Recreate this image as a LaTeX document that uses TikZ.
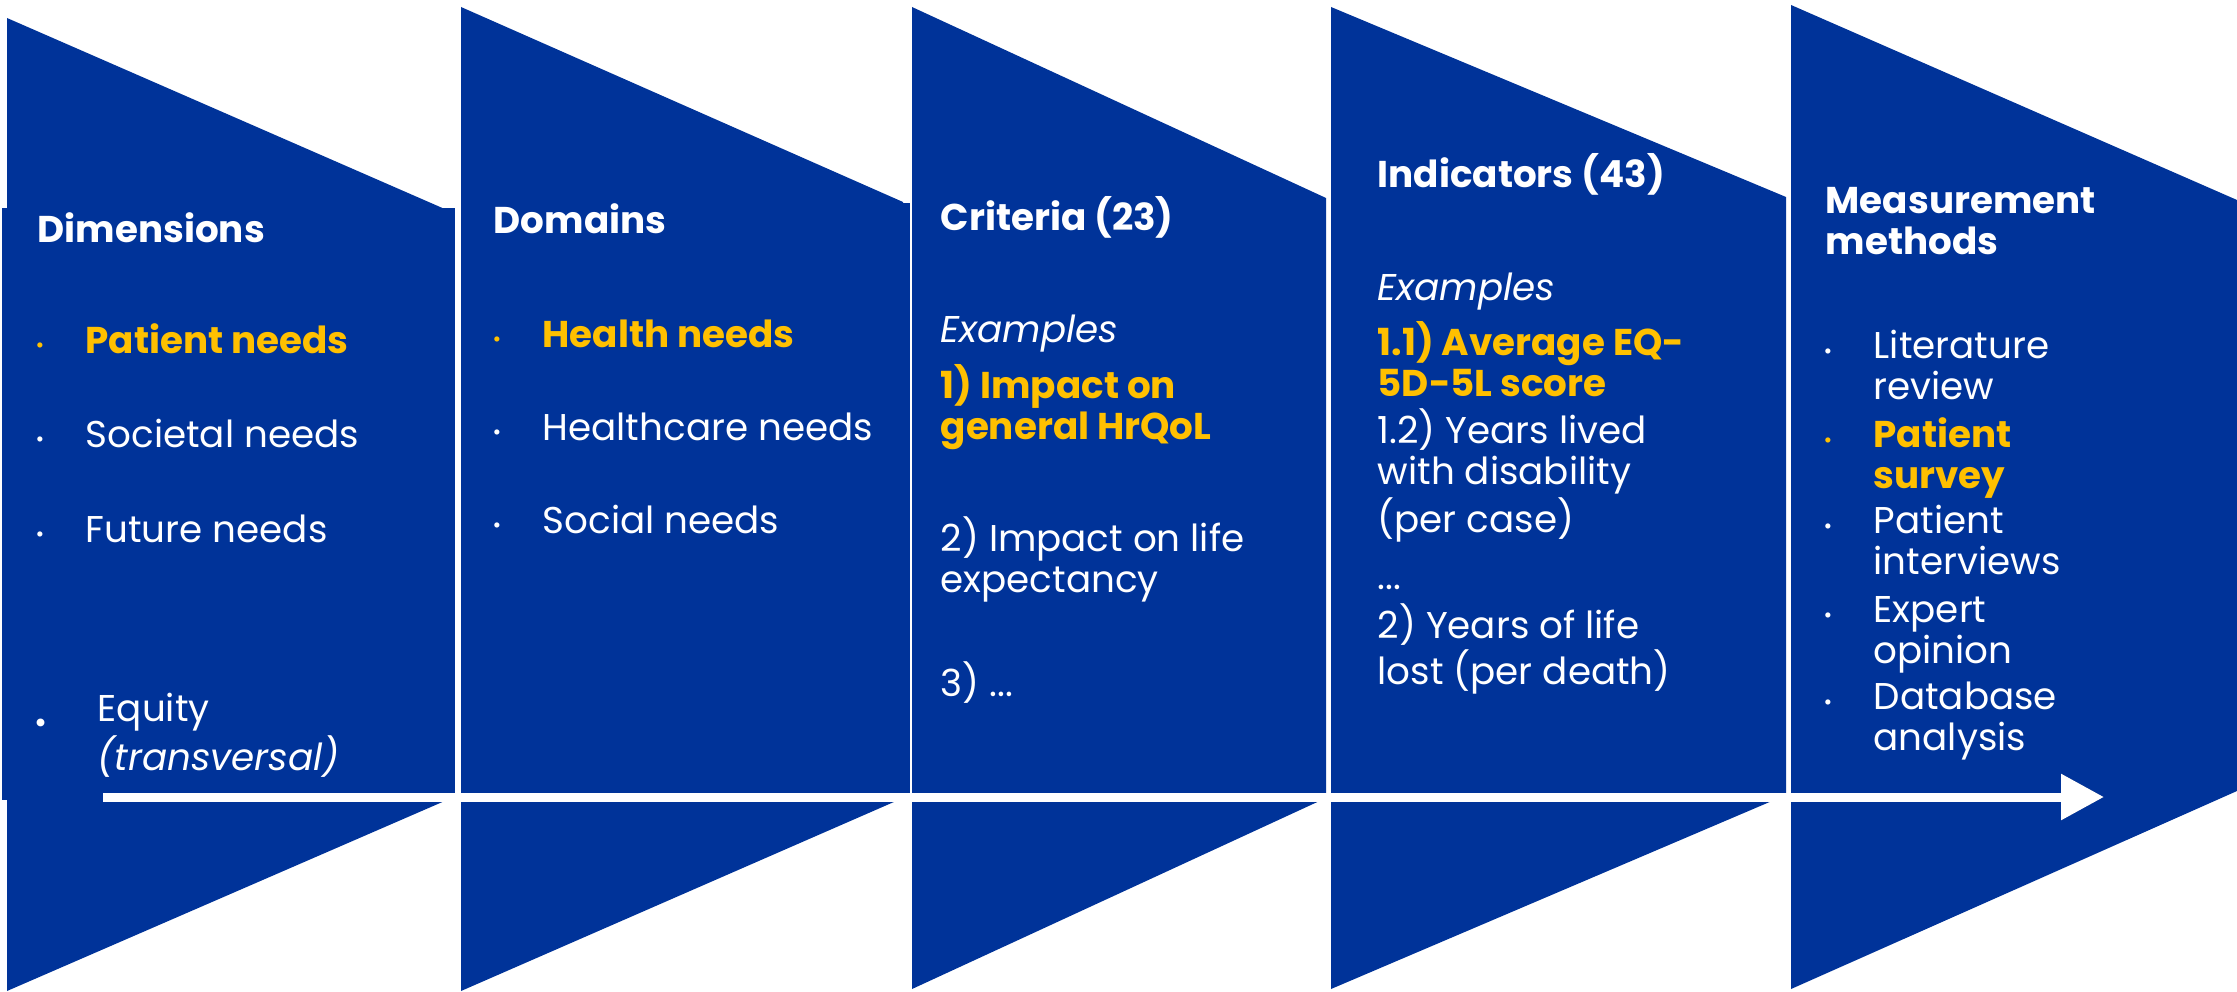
\documentclass[tikz,border=0pt]{standalone}
\usepackage{fontspec}
\setmainfont{Poppins}
\usepackage{tikz}
\usetikzlibrary{arrows.meta}
\definecolor{eublue}{RGB}{0,51,153}
\definecolor{gold}{RGB}{255,192,0}
\tikzstyle{panel} = [fill = eublue, draw = none]
\tikzstyle{heading} = [anchor = base west, inner sep = 0pt, align = left, text = white, font = \bfseries]
\tikzstyle{item} = [anchor = base west, inner sep = 0pt, align = left, text = white]
\tikzstyle{hot} = [item, text = gold, font = \bfseries]
\tikzstyle{dot} = [anchor = center, inner sep = 0pt, text = white, font = \fontsize{6}{6}\selectfont]
\tikzstyle{fleche} = [white, line width = 0.09cm, -{Triangle[length = 0.43cm, width = 0.44cm]}]

\begin{document}
\fontsize{10.6}{11.4}\selectfont
\begin{tikzpicture}[x = 0.01cm, y = -0.01cm]
\useasboundingbox (0,0) rectangle (2237,991);
% the five panels
\fill[panel] (7,18) -- (447,210) -- (447,800) -- (7,991) -- cycle;
\fill[panel] (2,208) rectangle (455,800);
\fill[panel] (461,7) -- (903,202) -- (903,798) -- (461,991) -- cycle;
\fill[panel] (461,203) rectangle (910,798);
\fill[panel] (912,7) -- (1326,198) -- (1326,798) -- (912,989) -- cycle;
\fill[panel] (1331,7) -- (1786,197) -- (1786,795) -- (1331,989) -- cycle;
\fill[panel] (1791,5) -- (2237,200) -- (2237,791) -- (1791,989) -- cycle;

% Dimensions (base = last line)
\node (dim) [heading] at (37,242) {Dimensions};
\node (d1) [hot] at (85,353) {Patient needs};
\node (d2) [item] at (85,447) {Societal needs};
\node (d3) [item] at (85,542) {Future needs};
\node (d4) [item] at (97,770) {Equity\\\textit{(transversal)}};
\node [dot, text = gold] at (40,348) {•};
\node [dot] at (40,442) {•};
\node [dot] at (40,537) {•};
\node [dot, font = \fontsize{9}{9}\selectfont] at (41,726) {•};

% Domains
\node (dom) [heading] at (493,233) {Domains};
\node (m1) [hot] at (542,347) {Health needs};
\node (m2) [item] at (542,440) {Healthcare needs};
\node (m3) [item] at (542,533) {Social needs};
\node [dot, text = gold] at (497,342) {•};
\node [dot] at (497,435) {•};
\node [dot] at (497,528) {•};

% Criteria
\node (crit) [heading] at (940,231) {Criteria (23)};
\node (c0) [item] at (940,342) {\textit{Examples}};
\node (c1) [hot] at (940,439) {1) Impact on\\general HrQoL};
\node (c2) [item] at (940,592) {2) Impact on life\\expectancy};
\node (c3) [item] at (940,696) {3) ...};

% Indicators
\node (ind) [heading] at (1377,188) {Indicators (43)};
\node (i0) [item] at (1377,300) {\textit{Examples}};
\node (i1) [hot] at (1377,396) {1.1) Average EQ-\\5D-5L score};
\node (i2) [item] at (1377,532) {1.2) Years lived\\with disability\\(per case)};
\node (i3) [item] at (1377,589) {...};
\node (i4) [item] at (1377,684) {2) Years of life\\lost (per death)};

% Measurement methods
\node (meth) [heading] at (1825,254) {Measurement\\methods};
\node (t1) [item] at (1873,399) {Literature\\review};
\node (t2) [hot] at (1873,488) {Patient\\survey};
\node (t3) [item] at (1873,574) {Patient\\interviews};
\node (t4) [item] at (1873,663) {Expert\\opinion};
\node (t5) [item] at (1873,750) {Database\\analysis};
\node [dot] at (1828,354) {•};
\node [dot, text = gold] at (1828,443) {•};
\node [dot] at (1828,529) {•};
\node [dot] at (1828,618) {•};
\node [dot] at (1828,705) {•};

% arrow
\coordinate (debut) at (103,797);
\coordinate (fin) at (2104,797);
\draw[fleche, black, opacity = 0.3, shift = {(1,3)}] (debut) -- (fin);
\draw[fleche] (debut) -- (fin);
\end{tikzpicture}
\end{document}
